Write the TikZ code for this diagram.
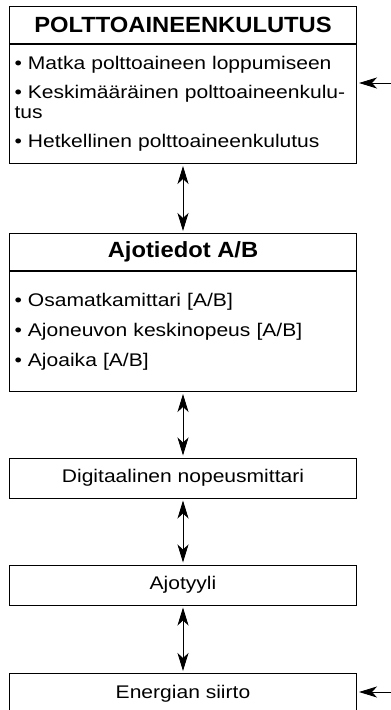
\documentclass[tikz,border=0pt]{standalone}
\usepackage{fontspec}
\setmainfont[FakeStretch=1.15]{Liberation Sans}
\newfontfamily\headfont[FakeStretch=1.08]{Liberation Sans}
\usetikzlibrary{positioning, arrows.meta}

\begin{document}
\begin{tikzpicture}[
    x=1pt, y=-1pt,
    >={Stealth[length=18pt, width=11pt, inset=5pt]},
    head/.style={
        draw,
        line width=1pt,
        minimum width=347pt,
        minimum height=37pt,
        inner sep=0pt,
        font=\headfont\fontsize{22}{24}\selectfont\bfseries
    },
    listbox/.style={
        draw,
        line width=1pt,
        text width=337pt,
        inner xsep=5pt,
        inner ysep=0pt,
        align=left,
        font=\fontsize{18.3}{19.5}\selectfont
    },
    plainbox/.style={
        draw,
        line width=1pt,
        minimum width=347pt,
        minimum height=40pt,
        inner sep=0pt,
        font=\fontsize{18.3}{20}\selectfont
    },
    link/.style={<->, line width=0.9pt, shorten <=2pt, shorten >=2pt}
]
\useasboundingbox (0,0) rectangle (391,710);
\clip (0,0) rectangle (391,710);

% Fuel consumption box
\node[head, anchor=north west] (fuelhead) at (9,6)
      {POLTTOAINEENKULUTUS};
\node[listbox, minimum height=119pt, below=0pt of fuelhead] (fuelbody)
      {• Matka polttoaineen loppumiseen\\[10pt]
       • Keskimääräinen polttoaineenkulu-\\tus\\[10pt]
       • Hetkellinen polttoaineenkulutus};

% Trip data box
\node[head, anchor=north west] (triphead) at (9,233)
      {Ajotiedot A/B};
\node[listbox, minimum height=120pt, below=0pt of triphead] (tripbody)
      {• Osamatkamittari [A/B]\\[10.5pt]
       • Ajoneuvon keskinopeus [A/B]\\[10.5pt]
       • Ajoaika [A/B]\\[16pt]};

% Single line boxes
\node[plainbox, anchor=north west] (speedo) at (9,457.5)
      {Digitaalinen nopeusmittari};
\node[plainbox, anchor=north west] (style) at (9,564.5)
      {Ajotyyli};
\node[plainbox, anchor=north west] (energy) at (9,673)
      {Energian siirto};

% Inputs from the right
\coordinate (fuelin) at (391,83);
\coordinate (energyin) at (391,692);

% Connectors
\draw[link] (fuelbody) -- (triphead);
\draw[link] (tripbody) -- (speedo);
\draw[link] (speedo) -- (style);
\draw[link] (style) -- (energy);
\draw[->, line width=0.9pt, shorten >=2pt] (fuelin) -- (fuelin -| fuelbody.east);
\draw[->, line width=0.9pt, shorten >=2pt] (energyin) -- (energyin -| energy.east);

\end{tikzpicture}
\end{document}
